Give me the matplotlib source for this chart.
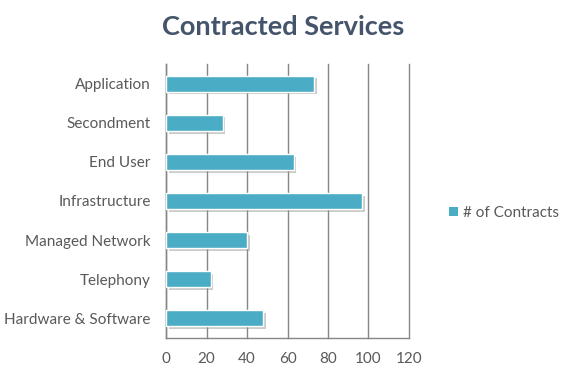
import matplotlib
matplotlib.use("Agg")
import matplotlib.pyplot as plt
import matplotlib.patheffects as pe
from matplotlib.patches import Patch

# data (top to bottom as shown)
categories = ["Application", "Secondment", "End User", "Infrastructure",
              "Managed Network", "Telephony", "Hardware & Software"]
contracts = [73, 28, 63, 97, 40, 22, 48]
xticks = [0, 20, 40, 60, 80, 100, 120]

bar_color = "#4BACC6"
text_color = "#595959"
grid_color = "#868686"

plt.rcParams['font.family'] = ['Lato', 'DejaVu Sans']

fig = plt.figure(figsize=(5.67, 3.71), dpi=100)
ax = fig.add_axes([166/567, 1 - 338/371, (409-166)/567, (338-64)/371])

ypos = list(range(len(categories)))[::-1]
bars = ax.barh(ypos, contracts, height=0.41, color=bar_color,
               edgecolor="white", linewidth=1.0, zorder=3)
for b in bars:
    b.set_path_effects([pe.SimplePatchShadow(offset=(2, -2), shadow_rgbFace="#999999", alpha=0.5),
                        pe.Normal()])

ax.set_xlim(0, 120)
ax.set_ylim(-0.5, len(categories) - 0.5)
ax.set_xticks(xticks)
ax.set_xticklabels([str(t) for t in xticks])
ax.set_yticks(ypos)
ax.set_yticklabels(categories)
ax.tick_params(axis="both", length=0, colors=text_color, labelsize=11)
ax.tick_params(axis="x", pad=10)
ax.tick_params(axis="y", pad=11)
ax.xaxis.grid(True, color=grid_color, linewidth=1.0, zorder=0)
for gl in ax.get_xgridlines():
    gl.set_clip_on(False)
ax.set_axisbelow(True)
for s in ["top", "right"]:
    ax.spines[s].set_visible(False)
for s in ["left", "bottom"]:
    ax.spines[s].set_color(grid_color)
    ax.spines[s].set_linewidth(1.0)

fig.text(283/567, 1 - 27/371, "Contracted Services", ha="center", va="center",
         fontsize=19.5, fontweight="bold", color="#44546A")

handle = Patch(facecolor=bar_color, edgecolor="none")
leg = fig.legend(handles=[handle], labels=["# of Contracts"], loc="center left",
                 bbox_to_anchor=(449/567, 1 - 213/371), frameon=False,
                 borderpad=0, borderaxespad=0,
                 handlelength=0.6, handleheight=0.6, handletextpad=0.3,
                 fontsize=11)
for t in leg.get_texts():
    t.set_color(text_color)

fig.savefig("out.png", dpi=100)
